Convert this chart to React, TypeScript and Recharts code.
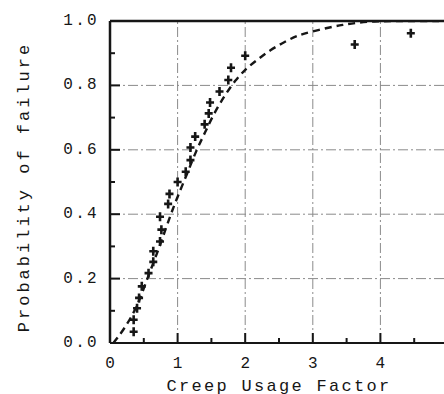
import React from "react";
import {
  ComposedChart,
  Line,
  Scatter,
  XAxis,
  YAxis,
  ReferenceLine,
} from "recharts";

// observed failures: creep usage factor vs. ranked probability of failure
const usageFactor = [
  0.35, 0.35, 0.4, 0.43, 0.47, 0.57, 0.64, 0.64, 0.74, 0.76, 0.74, 0.86, 0.88, 1.0,
  1.12, 1.19, 1.19, 1.26, 1.4, 1.46, 1.48, 1.62, 1.75, 1.79, 2.0, 3.62, 4.45,
];
const failProb = [
  0.035, 0.072, 0.108, 0.14, 0.176, 0.217, 0.252, 0.285, 0.315, 0.352, 0.392, 0.432,
  0.463, 0.5, 0.532, 0.568, 0.607, 0.641, 0.679, 0.713, 0.747, 0.781, 0.817, 0.855,
  0.892, 0.927, 0.962,
];

// fitted distribution (dashed)
const fitX = [
  0.05, 0.2, 0.4, 0.55, 0.7, 0.8, 0.9, 1.0, 1.14, 1.28, 1.41, 1.53, 1.7, 1.85, 2.0,
  2.18, 2.37, 2.58, 2.77, 2.98, 3.24, 3.44, 3.66, 3.9, 4.2, 5.0,
];
const fitY = [
  0.0, 0.04, 0.11, 0.2, 0.28, 0.34, 0.4, 0.455, 0.525, 0.6, 0.655, 0.71, 0.77, 0.815,
  0.85, 0.88, 0.91, 0.935, 0.955, 0.967, 0.98, 0.988, 0.995, 0.999, 1.0, 1.0,
];

const xTicks = [0, 0.5, 1, 1.5, 2, 2.5, 3, 3.5, 4, 4.5, 5];
const yTicks = [0, 0.1, 0.2, 0.3, 0.4, 0.5, 0.6, 0.7, 0.8, 0.9, 1.0];
const gridX = [1, 2, 3, 4];
const gridY = [0.2, 0.4, 0.6, 0.8];

const points = usageFactor.map((x, i) => ({ x, y: failProb[i] }));
const fit = fitX.map((x, i) => ({ x, y: fitY[i] }));

const FONT = "'Liberation Mono', 'DejaVu Sans Mono', monospace";
const INK = "#161616";
const Y_GAP = 13;
const X_GAP = 14;

function YTick(props: any) {
  const { x, y, payload } = props;
  const axisX = x + Y_GAP;
  const major = Math.round(payload.value * 10) % 2 === 0;
  return (
    <g>
      <line x1={axisX} x2={axisX + (major ? 10 : 5)} y1={y} y2={y} stroke={INK} strokeWidth={2} />
      {major && (
        <text
          x={x + 2}
          y={y}
          textAnchor="end"
          dominantBaseline="central"
          fontFamily={FONT}
          fontSize={16}
          letterSpacing={2.3}
          fill={INK}
        >
          {payload.value.toFixed(1)}
        </text>
      )}
    </g>
  );
}

function XTick(props: any) {
  const { x, y, payload } = props;
  const axisY = y - X_GAP;
  const major = Number.isInteger(payload.value);
  return (
    <g>
      <line x1={x} x2={x} y1={axisY} y2={axisY - (major ? 10 : 5)} stroke={INK} strokeWidth={2} />
      {major && payload.value < 5 && (
        <text
          x={x}
          y={y + 7}
          textAnchor="middle"
          dominantBaseline="central"
          fontFamily={FONT}
          fontSize={16}
          fill={INK}
        >
          {payload.value}
        </text>
      )}
    </g>
  );
}

function Plus(props: any) {
  const { cx, cy } = props;
  if (cx == null || cy == null) return null;
  return (
    <path
      d={`M${cx - 4},${cy} L${cx + 4},${cy} M${cx},${cy - 4.5} L${cx},${cy + 4.5}`}
      stroke={INK}
      strokeWidth={2.6}
      fill="none"
    />
  );
}

function YTitle(props: any) {
  const { viewBox } = props;
  const cx = 24;
  const cy = viewBox.y + viewBox.height / 2 + 5;
  return (
    <text
      x={cx}
      y={cy}
      transform={`rotate(-90, ${cx}, ${cy})`}
      textAnchor="middle"
      dominantBaseline="central"
      fontFamily={FONT}
      fontSize={17}
      letterSpacing={3}
      fill={INK}
    >
      Probability of failure
    </text>
  );
}

function XTitle(props: any) {
  const { viewBox } = props;
  const cx = viewBox.x + viewBox.width / 2;
  return (
    <text
      x={cx}
      y={386}
      textAnchor="middle"
      dominantBaseline="central"
      fontFamily={FONT}
      fontSize={17}
      letterSpacing={2.3}
      fill={INK}
    >
      Creep Usage Factor
    </text>
  );
}

export default function App() {
  return (
    <div
      style={{
        position: "absolute",
        left: 0,
        top: 0,
        width: 444,
        height: 394,
        overflow: "hidden",
        background: "#fff",
      }}
    >
      <ComposedChart
        width={470}
        height={394}
        margin={{ top: 21, right: 22, left: 0, bottom: 0 }}
      >
        <XAxis
          type="number"
          dataKey="x"
          domain={[0, 5]}
          ticks={xTicks}
          interval={0}
          allowDataOverflow
          height={51}
          tickSize={0}
          tickMargin={X_GAP}
          tickLine={false}
          tick={<XTick />}
          axisLine={{ stroke: INK, strokeWidth: 2 }}
          label={<XTitle />}
        />
        <YAxis
          type="number"
          dataKey="y"
          domain={[0, 1]}
          ticks={yTicks}
          interval={0}
          allowDataOverflow
          width={110}
          tickSize={0}
          tickMargin={Y_GAP}
          tickLine={false}
          tick={<YTick />}
          axisLine={{ stroke: INK, strokeWidth: 2.5 }}
          label={<YTitle />}
        />
        {gridY.map((v) => (
          <ReferenceLine
            key={`gy${v}`}
            y={v}
            stroke="#8a8a8a"
            strokeWidth={1}
            strokeDasharray="10 3 2 3"
          />
        ))}
        {gridX.map((v) => (
          <ReferenceLine
            key={`gx${v}`}
            x={v}
            stroke="#8a8a8a"
            strokeWidth={1}
            strokeDasharray="10 3 2 3"
          />
        ))}
        <ReferenceLine y={1} stroke={INK} strokeWidth={2.5} />
        <Line
          data={fit}
          dataKey="y"
          type="basis"
          stroke={INK}
          strokeWidth={2.4}
          strokeDasharray="7 5"
          dot={false}
          isAnimationActive={false}
        />
        <Scatter data={points} dataKey="y" shape={<Plus />} isAnimationActive={false} />
      </ComposedChart>
    </div>
  );
}
